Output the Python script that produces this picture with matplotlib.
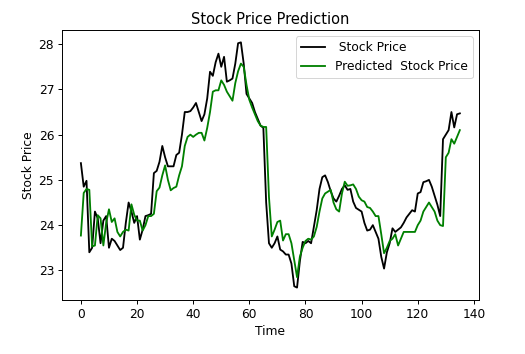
import numpy as np
import matplotlib
matplotlib.use("Agg")
import matplotlib.pyplot as plt

# real price, one value per time step
real_price = [
    25.37, 24.85, 24.98, 23.40, 23.50, 24.30, 24.15, 23.60, 24.10, 24.20,
    23.50, 23.70, 23.65, 23.55, 23.45, 23.50, 24.05, 24.50, 24.30, 24.05,
    24.20, 23.68, 23.90, 24.20, 24.22, 24.25, 25.15, 25.20, 25.40, 25.75,
    25.50, 25.30, 25.30, 25.30, 25.55, 25.60, 26.00, 26.50, 26.50, 26.52,
    26.60, 26.70, 26.50, 26.30, 26.45, 26.80, 27.39, 27.30, 27.60, 27.79,
    27.50, 27.72, 27.17, 27.20, 27.24, 27.57, 28.02, 28.04, 27.57, 26.90,
    26.80, 26.70, 26.50, 26.35, 26.20, 26.15, 24.50, 23.60, 23.50, 23.60,
    23.75, 23.46, 23.42, 23.35, 23.35, 23.15, 22.65, 22.62, 23.20, 23.63,
    23.60, 23.65, 23.60, 23.96, 24.33, 24.80, 25.06, 25.10, 24.95, 24.75,
    24.59, 24.52, 24.65, 24.80, 24.88, 24.78, 24.80, 24.52, 24.38, 24.34,
    24.30, 24.05, 23.88, 23.90, 24.00, 23.85, 23.70, 23.30, 23.04, 23.40,
    23.60, 23.93, 23.85, 23.90, 23.95, 24.05, 24.17, 24.25, 24.33, 24.30,
    24.70, 24.73, 24.95, 24.97, 25.00, 24.85, 24.65, 24.45, 24.20, 25.90,
    26.00, 26.10, 26.50, 26.16, 26.45, 26.47,
]

# model output
predicted_price = [
    23.77, 24.71, 24.80, 24.78, 23.53, 23.55, 24.22, 24.15, 23.55, 24.05,
    24.35, 24.07, 24.15, 23.85, 23.75, 23.85, 23.90, 23.88, 24.46, 24.23,
    24.10, 24.10, 23.88, 24.00, 24.20, 24.20, 24.25, 24.75, 24.83, 25.10,
    25.32, 25.00, 24.77, 24.82, 24.85, 25.10, 25.30, 25.75, 25.95, 26.00,
    25.95, 26.00, 26.04, 26.04, 25.87, 26.15, 26.50, 26.95, 26.98, 26.98,
    27.20, 27.10, 26.95, 26.85, 26.75, 27.14, 27.40, 27.57, 27.50, 27.10,
    26.77, 26.60, 26.45, 26.30, 26.20, 26.17, 26.17, 24.62, 23.75, 23.90,
    24.07, 24.10, 23.66, 23.80, 23.80, 23.60, 23.22, 22.85, 23.30, 23.50,
    23.65, 23.70, 23.68, 23.75, 23.96, 24.30, 24.59, 24.70, 24.74, 24.78,
    24.50, 24.35, 24.30, 24.70, 24.96, 24.87, 24.88, 24.90, 24.80, 24.63,
    24.55, 24.52, 24.40, 24.38, 24.30, 24.20, 24.20, 23.80, 23.38, 23.50,
    23.65, 23.70, 23.80, 23.55, 23.70, 23.85, 23.85, 23.85, 23.85, 23.85,
    24.00, 24.10, 24.30, 24.40, 24.50, 24.40, 24.30, 24.10, 24.00, 23.98,
    25.50, 25.60, 25.90, 25.80, 25.95, 26.10,
]

# reference looks like a notebook figure saved a bit larger than 72 dpi
s = 1.22
plt.rcParams.update({
    "font.size": 10 * s,
    "lines.linewidth": 1.5 * s,
    "axes.linewidth": 0.8 * s,
    "xtick.major.size": 3.5 * s,
    "ytick.major.size": 3.5 * s,
    "xtick.major.width": 0.8 * s,
    "ytick.major.width": 0.8 * s,
    "legend.frameon": True,
})

fig = plt.figure(figsize=(525 / 72, 354 / 72), dpi=72)
ax = fig.add_axes([0.118, 0.153, 0.794, 0.762])

ax.plot(real_price, color="black", label=" Stock Price")
ax.plot(predicted_price, color="green", label="Predicted  Stock Price")
ax.set_title("Stock Price Prediction")
ax.set_xlabel("Time")
ax.set_ylabel("Stock Price")
ax.legend()

fig.savefig("out.png", dpi=72)
